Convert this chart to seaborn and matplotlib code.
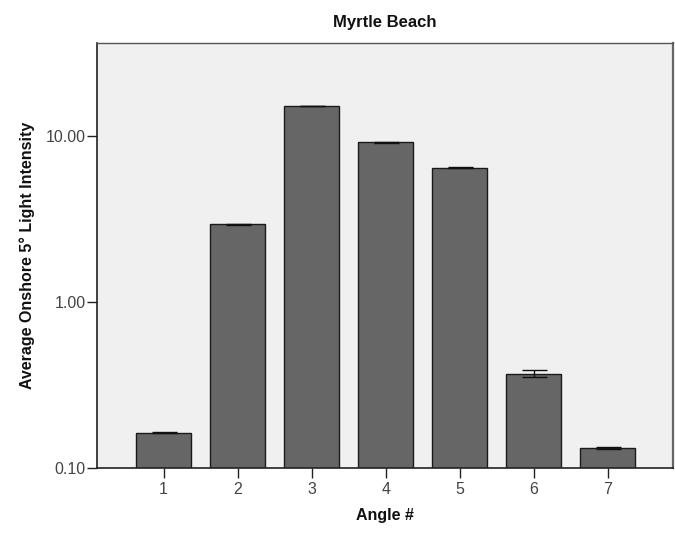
import matplotlib
matplotlib.use("Agg")
import matplotlib.pyplot as plt
import seaborn as sns
import pandas as pd
import numpy as np

# Mean onshore 5° light intensity per angle, with standard errors
angles = ["1", "2", "3", "4", "5", "6", "7"]
intensity = [0.163, 2.95, 15.2, 9.2, 6.45, 0.370, 0.1315]
std_error = [0.002, 0.02, 0.06, 0.05, 0.04, 0.018, 0.002]

sns.set_theme(style="white")
plt.rcParams["font.family"] = ["Liberation Sans", "DejaVu Sans"]

df = pd.DataFrame({"Angle": angles, "Intensity": intensity})

fig = plt.figure(figsize=(6.75, 5.33), dpi=100)
ax = fig.add_axes([0.1437, 0.1225, 0.8533, 0.7965])
ax.set_facecolor("#f0f0f0")

sns.barplot(data=df, x="Angle", y="Intensity", color="#666666",
            saturation=1, width=0.74, edgecolor="#1a1a1a", linewidth=1.0,
            errorbar=None, ax=ax, zorder=2)

ax.errorbar(np.arange(len(angles)), intensity, yerr=std_error, fmt="none",
            ecolor="#111111", elinewidth=1.0, capsize=9, capthick=1.0, zorder=3)

ax.set_yscale("log")
ax.set_ylim(0.1, 36.4)
ax.set_xlim(-0.9, 6.88)
ax.set_yticks([0.1, 1, 10])
ax.set_yticklabels(["0.10", "1.00", "10.00"])
ax.minorticks_off()
ax.yaxis.set_minor_locator(matplotlib.ticker.NullLocator())

ax.tick_params(axis="both", direction="out", length=7, width=1.0,
               color="#222222", labelsize=11.5, labelcolor="#444444",
               left=True, bottom=True)
ax.tick_params(axis="y", pad=1)
ax.tick_params(axis="x", pad=3)

for side in ["left", "bottom"]:
    ax.spines[side].set_color("#222222")
    ax.spines[side].set_linewidth(1.2)
ax.spines["top"].set_color("#555555")
ax.spines["top"].set_linewidth(1.0)
ax.spines["right"].set_color("#666666")
ax.spines["right"].set_linewidth(1.6)

ax.set_xlabel("Angle #", fontsize=11.5, fontweight="bold", labelpad=8, color="#111111")
ax.set_ylabel("Average Onshore 5° Light Intensity", fontsize=11.5,
              fontweight="bold", labelpad=8, color="#111111")
ax.set_title("Myrtle Beach", fontsize=12, fontweight="bold", pad=12, color="#111111")

fig.savefig("out.png", dpi=100)
